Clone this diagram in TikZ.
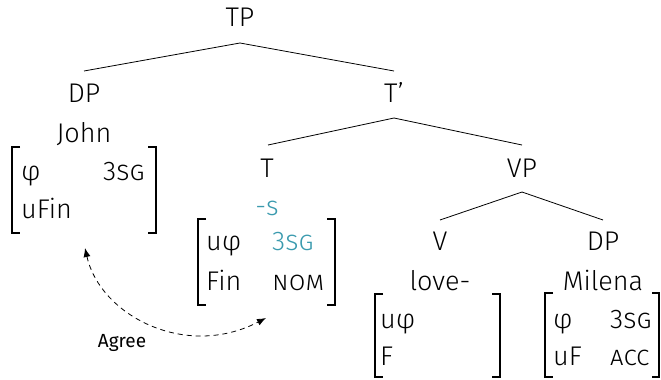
\documentclass[tikz,border=0pt]{standalone}
\usepackage{fontspec}
\setmainfont{Fira Sans Light}
\newfontfamily\agreefont{Fira Sans}
\usetikzlibrary{arrows.meta}
\definecolor{tealA}{RGB}{58,154,174}
\begin{document}
\begin{tikzpicture}[x=1pt,y=-1pt,
  lbl/.style={anchor=base,inner sep=0pt,font=\fontsize{27}{32}\selectfont},
  feat/.style={anchor=base west,inner sep=0pt,font=\fontsize{27}{32}\selectfont},
  branch/.style={line width=0.8pt},
  brk/.style={line width=1.3pt},
  agreearrow/.style={line width=0.8pt,dash pattern=on 5pt off 4pt,{Latex[length=9pt,width=7pt]}-{Latex[length=9pt,width=7pt]}}]
\useasboundingbox (0,0) rectangle (661,380);
% tree labels
\node[lbl] (tp) at (240,27) {TP};
\node[lbl] (dp1) at (84,102) {DP};
\node[lbl] (tbar) at (394,102) {T’};
\node[lbl] (john) at (84,142) {John};
\node[lbl] (t) at (267,177) {T};
\node[lbl] (vp) at (522,177) {VP};
\node[lbl,text=tealA] (s) at (267,215) {-s};
\node[lbl] (v) at (440,250) {V};
\node[lbl] (dp2) at (603,250) {DP};
\node[lbl] (love) at (440,290) {love-};
\node[lbl] (milena) at (603,290) {Milena};
% branch points
\coordinate (tpb) at (240,43);
\coordinate (dp1t) at (84,71);
\coordinate (tbart) at (394,71);
\coordinate (tbarb) at (394,118);
\coordinate (tt) at (268,145);
\coordinate (vpt) at (522,145);
\coordinate (vpb) at (522,192);
\coordinate (vt) at (440,220);
\coordinate (dp2t) at (603,220);
\draw[branch] (dp1t) -- (tpb) -- (tbart);
\draw[branch] (tt) -- (tbarb) -- (vpt);
\draw[branch] (vt) -- (vpb) -- (dp2t);
% John features
\draw[brk] (20,147) -- (12,147) -- (12,233) -- (20,233);
\draw[brk] (148,147) -- (156,147) -- (156,233) -- (148,233);
\node[feat] (j1) at (21,180) {φ};
\node[feat] (j2) at (103,180) {3\textsc{sg}};
\node[feat] (j3) at (21,218) {uFin};
% T features
\draw[brk] (206,219) -- (198,219) -- (198,305) -- (206,305);
\draw[brk] (327,219) -- (335,219) -- (335,305) -- (327,305);
\node[feat] (t1) at (206,250) {uφ};
\node[feat,text=tealA] (t2) at (272,250) {3\textsc{sg}};
\node[feat] (t3) at (206,290) {Fin};
\node[feat] (t4) at (272,290) {\textsc{nom}};
% V features
\draw[brk] (383,294) -- (375,294) -- (375,377) -- (383,377);
\draw[brk] (492,294) -- (500,294) -- (500,377) -- (492,377);
\node[feat] (v1) at (380,328) {uφ};
\node[feat] (v2) at (380,365) {F};
% DP features
\draw[brk] (553,293) -- (545,293) -- (545,377) -- (553,377);
\draw[brk] (652,293) -- (659,293) -- (659,377) -- (652,377);
\node[feat] (d1) at (553,328) {φ};
\node[feat] (d2) at (610,328) {3\textsc{sg}};
\node[feat] (d3) at (553,365) {uF};
\node[feat] (d4) at (610,365) {\textsc{acc}};
% Agree
\coordinate (ag1) at (85,248);
\coordinate (ag2) at (266,318);
\draw[agreearrow] (ag1) .. controls (100,315) and (185,360) .. (ag2);
\node[anchor=base,inner sep=0pt,font=\agreefont\fontsize{19}{22}\selectfont] (agree) at (122,347) {Agree};
\end{tikzpicture}
\end{document}
